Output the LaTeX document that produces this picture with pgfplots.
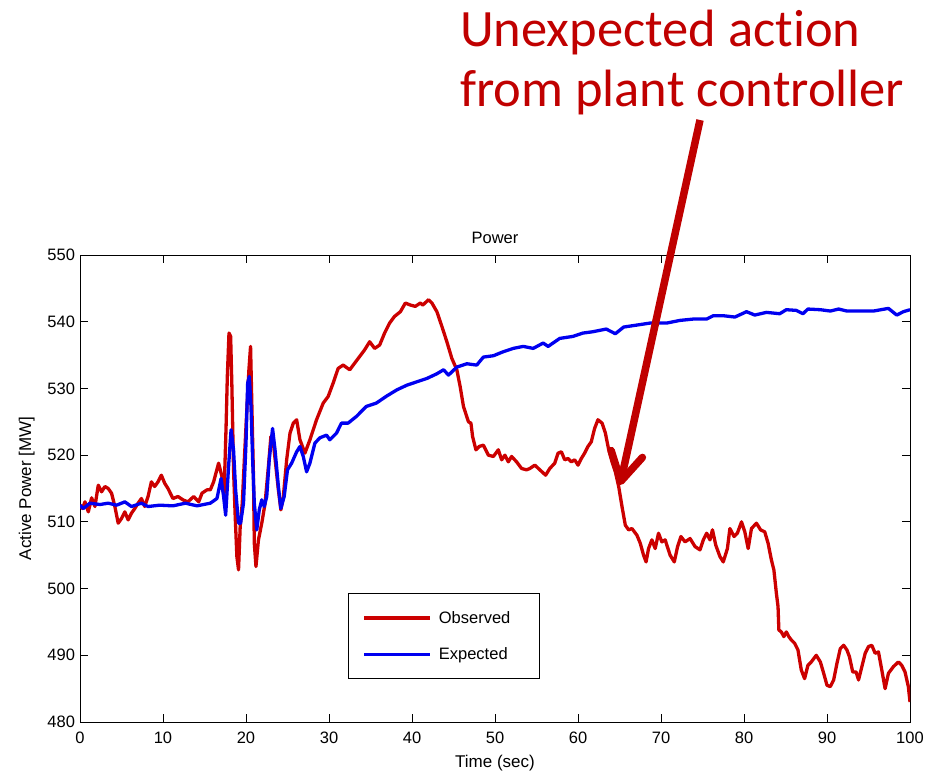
\documentclass[border=0pt]{standalone}
\usepackage{fontspec}
\setmainfont{Liberation Sans}
\newfontfamily\calibri[Ligatures=NoCommon]{Carlito}
\usepackage{pgfplots}
\usepackage{pgfplotstable}
\pgfplotsset{compat=1.18}
\usetikzlibrary{arrows.meta}
\definecolor{obsred}{RGB}{204,0,0}
\definecolor{expblue}{RGB}{0,0,240}
\definecolor{annred}{RGB}{192,0,0}

\pgfplotstableread{
x y
0 512.5
0.3 512.0
0.6 513.0
1.0 511.5
1.4 513.6
1.8 512.3
2.2 515.5
2.6 514.5
3.0 515.3
3.4 515.0
3.8 514.3
4.2 512.3
4.6 509.8
5.0 510.5
5.4 511.5
5.8 510.3
6.2 511.3
6.6 512.0
7.0 512.8
7.4 513.5
7.8 512.3
8.2 513.8
8.6 516.0
9.0 515.3
9.4 516.0
9.8 517.0
10.2 515.8
10.6 515.0
11.2 513.5
11.8 513.8
12.4 513.3
13.0 513.0
13.7 513.8
14.3 513.0
14.7 514.3
15.3 514.8
15.7 514.8
16.1 516.0
16.7 518.8
17.1 516.8
17.35 513.8
17.6 524.3
17.75 531.8
17.95 538.3
18.15 537.8
18.3 530.3
18.5 517.8
18.7 510.8
18.9 504.8
19.1 502.8
19.3 509.3
19.55 512.8
19.8 519.3
20.1 526.8
20.35 532.8
20.55 536.3
20.7 527.8
20.9 516.8
21.0 506.8
21.2 503.3
21.5 507.3
21.9 509.8
22.3 512.8
22.7 518.3
23.0 522.8
23.3 521.8
23.6 518.3
23.9 514.8
24.2 511.8
24.5 513.8
24.9 519.3
25.3 523.3
25.7 524.8
26.1 525.3
26.5 522.3
27.1 520.3
27.7 522.3
28.5 525.3
29.3 527.8
29.9 528.8
30.5 530.8
31.1 533.0
31.7 533.5
32.5 532.8
33.1 533.8
33.7 534.8
34.3 535.8
34.9 537.0
35.5 536.0
36.1 536.5
36.7 538.3
37.3 539.8
37.9 540.8
38.6 541.5
39.2 542.8
39.8 542.5
40.4 542.3
41.0 542.8
41.3 542.5
42.0 543.3
42.4 542.8
43.0 541.5
43.6 539.3
44.2 537.0
44.8 534.5
45.4 532.8
45.8 530.3
46.2 527.3
46.8 525.0
47.1 524.8
47.3 522.8
47.7 520.8
48.1 521.3
48.6 521.5
49.2 520.0
49.8 519.8
50.4 520.8
50.8 519.3
51.2 520.0
51.6 519.0
52.0 519.8
52.6 519.0
53.2 518.0
53.8 517.8
54.2 518.0
54.8 518.5
55.4 517.8
56.1 517.0
56.6 518.0
57.2 518.8
57.6 520.3
58.0 520.5
58.4 519.3
58.8 519.5
59.2 519.0
59.6 519.3
60.0 518.5
60.4 519.5
60.8 520.3
61.2 521.3
61.6 522.0
62.0 524.0
62.4 525.3
62.9 524.8
63.3 523.3
63.7 520.8
64.1 519.0
64.5 517.5
64.9 515.3
65.3 512.3
65.7 509.5
66.1 508.8
66.5 509.0
67.1 508.0
67.5 506.8
67.9 505.0
68.2 504.0
68.5 506.0
68.9 507.3
69.3 506.0
69.7 508.3
70.1 507.0
70.5 507.3
71.1 505.0
71.6 504.0
72.0 506.3
72.4 507.8
72.9 507.0
73.5 507.5
74.1 506.3
74.7 505.8
75.1 507.3
75.5 508.3
75.9 507.3
76.2 508.8
76.6 506.5
77.1 504.8
77.5 504.0
78.0 506.0
78.3 509.0
78.8 507.8
79.2 508.3
79.7 510.0
80.1 508.5
80.5 506.0
80.9 509.0
81.5 509.8
82.0 508.8
82.5 508.5
82.9 506.8
83.3 504.3
83.6 502.8
83.9 499.3
84.1 497.3
84.2 493.8
84.5 493.5
84.8 492.8
85.1 493.5
85.4 492.8
85.7 492.3
86.1 491.8
86.5 490.8
86.9 487.8
87.3 486.5
87.7 488.5
88.1 489.0
88.7 490.0
89.2 489.0
89.6 487.3
90.0 485.5
90.4 485.3
90.8 486.3
91.2 488.8
91.6 491.0
92.0 491.5
92.4 490.8
92.7 489.8
93.1 487.5
93.5 487.5
93.8 486.3
94.2 488.3
94.6 490.3
95.0 491.3
95.4 491.5
95.8 490.3
96.2 490.5
96.6 487.8
97.0 485.0
97.4 487.3
98.0 488.3
98.6 489.0
99.0 488.5
99.4 487.5
99.8 485.3
100 483.0
}\observed

\pgfplotstableread{
x y
0 512.5
0.4 512.0
1.2 512.8
2.4 512.6
3.4 512.8
4.4 512.5
5.4 513.0
6.2 512.3
7.4 512.8
8.2 512.3
9.6 512.5
11.2 512.4
12.7 512.8
14.1 512.4
15.7 512.8
16.5 513.5
17.0 516.5
17.3 513.8
17.55 511.0
17.9 518.3
18.2 523.8
18.5 520.8
18.75 514.8
19.1 509.8
19.35 509.8
19.7 512.8
20.0 521.8
20.2 530.8
20.4 531.8
20.6 527.3
20.8 519.3
21.0 512.8
21.3 508.8
21.6 511.8
21.9 513.3
22.2 512.3
22.5 513.8
22.8 519.3
23.2 524.0
23.5 520.8
23.9 515.3
24.2 512.0
24.6 513.8
25.0 517.8
25.5 518.8
26.1 520.5
26.5 521.3
26.9 519.8
27.3 517.5
27.7 518.8
28.3 521.8
28.9 522.6
29.7 523.0
30.1 522.3
30.9 523.3
31.5 524.8
32.3 524.8
33.3 525.8
34.5 527.3
35.7 527.8
37.0 528.9
38.2 529.8
39.4 530.5
40.6 531.0
41.8 531.5
43.0 532.2
43.8 532.8
44.4 532.0
45.4 533.2
46.6 533.7
47.8 533.5
48.6 534.7
49.8 534.9
51.0 535.5
52.2 536.0
53.4 536.3
54.6 536.0
55.8 536.8
56.4 536.3
57.8 537.5
59.4 537.8
60.6 538.3
61.8 538.5
63.4 538.9
64.5 538.2
65.5 539.2
67.1 539.5
68.7 539.8
70.7 539.8
72.3 540.2
73.9 540.4
75.5 540.4
76.3 540.9
77.5 540.9
78.9 540.7
80.3 541.5
81.3 541.0
82.7 541.4
84.3 541.2
85.1 541.8
86.3 541.7
87.1 541.2
87.7 541.9
89.2 541.8
90.4 541.6
91.4 541.9
92.4 541.6
94.0 541.6
95.6 541.6
97.4 542.0
98.4 541.0
99.2 541.5
100 541.8
}\expected

\begin{document}
\begin{tikzpicture}[x=1pt,y=1pt]
\useasboundingbox (0,0) rectangle (931,774);
\begin{axis}[
  at={(80pt,52pt)}, anchor=south west,
  scale only axis, width=830pt, height=467pt,
  xmin=0, xmax=100, ymin=480, ymax=550,
  xtick={0,10,...,100}, ytick={480,490,...,550},
  tick align=inside, major tick length=8pt,
  axis line style={line width=1pt},
  every tick/.style={black, line width=1pt},
  /pgf/number format/assume math mode=true,
  tick label style={font=\fontsize{16.5}{19}\selectfont},
  xticklabel style={yshift=-6.5pt},
  yticklabel style={xshift=-1.5pt},
  xlabel style={font=\fontsize{17}{20}\selectfont, yshift=-5pt},
  ylabel style={font=\fontsize{17}{20}\selectfont, yshift=6pt},
  title style={font=\fontsize{16.5}{19}\selectfont, yshift=2pt},
  title={Power},
  xlabel={Time (sec)},
  ylabel={Active Power [MW]},
  legend cell align=left,
  legend image code/.code={\draw[#1] (0pt,0pt) -- (66pt,0pt);},
  legend style={at={(axis cs:32.3,499.3)}, anchor=north west,
    draw=black, line width=1pt, fill=white,
    font=\fontsize{16.5}{19}\selectfont,
    nodes={inner sep=0pt},
    inner xsep=14pt, inner ysep=17.5pt, row sep=23pt,
    /tikz/every odd column/.append style={column sep=7pt}},
]
\addplot[obsred, line width=3.3pt, line join=round] table[x=x,y=y] {\observed};
\addlegendentry{Observed\hspace*{15pt}}
\addplot[expblue, line width=3.3pt, line join=round] table[x=x,y=y] {\expected};
\addlegendentry{Expected}
\end{axis}
\node[anchor=base west, text=annred, inner sep=0pt, font=\calibri\fontsize{52.5}{60}\selectfont] at (460,727) {Unexpected action};
\node[anchor=base west, text=annred, inner sep=0pt, font=\calibri\fontsize{52.5}{60}\selectfont] at (460,667) {from plant controller};
\draw[annred, line width=7.5pt, -{Straight Barb[length=28pt, width=32pt, round]}] (700,654) -- (620,289);
\end{tikzpicture}
\end{document}
